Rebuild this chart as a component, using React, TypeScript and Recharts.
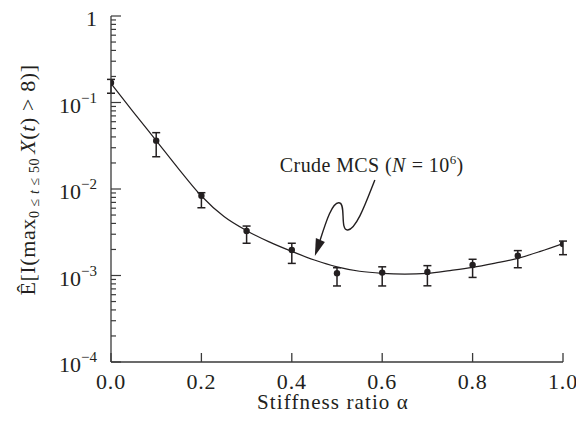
import { ComposedChart, ErrorBar, Label, Line, ReferenceDot, Scatter, XAxis, YAxis } from "recharts";

// Crude MCS estimates with error bars, one per stiffness ratio
const alpha = [0, 0.1, 0.2, 0.3, 0.4, 0.5, 0.6, 0.7, 0.8, 0.9, 1.0];
const mcsMean = [0.169, 0.0362, 0.00837, 0.00327, 0.00197, 0.00106, 0.00108, 0.0011, 0.00132, 0.00169, 0.00231];
const mcsLower = [0.128, 0.0236, 0.00607, 0.00236, 0.00138, 0.000757, 0.000757, 0.00076, 0.00095, 0.00123, 0.00174];
const mcsUpper = [0.185, 0.0448, 0.00906, 0.00373, 0.00236, 0.00123, 0.00126, 0.0013, 0.00154, 0.00194, 0.0025];

// smooth fitted curve
const curveAlpha = [0, 0.05, 0.1, 0.15, 0.2, 0.25, 0.3, 0.35, 0.4, 0.45, 0.5, 0.55, 0.6, 0.65, 0.7, 0.75, 0.8, 0.85, 0.9, 0.95, 1.0];
const curveValue = [
  0.166, 0.077, 0.0363, 0.017, 0.0083, 0.0048, 0.0033, 0.00245, 0.0019, 0.00151, 0.00126, 0.00112, 0.00106, 0.00104,
  0.00106, 0.00114, 0.00124, 0.00139, 0.00158, 0.0019, 0.00234,
];

const xTicks = [0, 0.2, 0.4, 0.6, 0.8, 1.0];
const xTopTicks = [0.2, 0.4, 0.6, 0.8];
const yDecades = [0.0001, 0.001, 0.01, 0.1, 1];
const yDecadeExponents = ["\u22124", "\u22123", "\u22122", "\u22121", ""];
const yMantissas = [2, 3, 4, 5, 6, 7, 8, 9];

const FONT = '"Liberation Serif", "Times New Roman", serif';
const INK = "#231f20";
const AXIS = "#3a3a3a";

const yTicks = [
  ...yDecades,
  ...yDecades.slice(0, -1).flatMap((d) => yMantissas.map((m) => m * d)),
].sort((a, b) => a - b);

const mcsData = alpha.map((x, i) => ({
  x,
  y: mcsMean[i],
  err: [mcsMean[i] - mcsLower[i], mcsUpper[i] - mcsMean[i]],
}));

const curveData = curveAlpha.map((x, i) => ({ x, v: curveValue[i] }));

const decadeIndex = (v: number) => yDecades.findIndex((d) => Math.abs(d - v) / d < 1e-6);

function BottomTick({ x, y, payload }: any) {
  return (
    <g>
      <line x1={x} x2={x} y1={y} y2={y - 9} stroke={AXIS} strokeWidth={1.3} />
      <text x={x} y={y + 27} textAnchor="middle" fill={INK} fontFamily={FONT} fontSize={22} letterSpacing={0.8}>
        {payload.value.toFixed(1)}
      </text>
    </g>
  );
}

function TopTick({ x, y }: any) {
  return <line x1={x} x2={x} y1={y} y2={y + 9} stroke={AXIS} strokeWidth={1.3} />;
}

function LeftTick({ x, y, payload }: any) {
  const k = decadeIndex(payload.value);
  const major = k >= 0;
  return (
    <g>
      <line x1={x} x2={x + (major ? 10 : 5)} y1={y} y2={y} stroke={AXIS} strokeWidth={1.2} />
      {major && (
        <text x={x - 14} y={y + 10} textAnchor="end" fill={INK} fontFamily={FONT} fontSize={22}>
          {yDecadeExponents[k] === "" ? (
            "1"
          ) : (
            <>
              10
              <tspan fontSize={15} dy={-10}>
                {yDecadeExponents[k]}
              </tspan>
            </>
          )}
        </text>
      )}
    </g>
  );
}

function RightTick({ x, y, payload }: any) {
  const major = decadeIndex(payload.value) >= 0;
  return <line x1={x} x2={x - (major ? 10 : 5)} y1={y} y2={y} stroke={AXIS} strokeWidth={1.2} />;
}

function XTitle({ viewBox }: any) {
  return (
    <text
      x={viewBox.x + viewBox.width / 2 - 4}
      y={viewBox.y + 47}
      textAnchor="middle"
      fill={INK}
      fontFamily={FONT}
      fontSize={21}
      letterSpacing={1.1}
    >
      Stiffness ratio α
    </text>
  );
}

function YTitle({ viewBox }: any) {
  const cx = viewBox.x + 35;
  const cy = viewBox.y + viewBox.height / 2 - 9;
  return (
    <text
      x={cx}
      y={cy}
      transform={`rotate(-90, ${cx}, ${cy})`}
      textAnchor="middle"
      fill={INK}
      fontFamily={FONT}
      fontSize={22}
      letterSpacing={0.6}
    >
      Ê[I(max
      <tspan fontSize={14} dy={4}>
        0 ≤{" "}
      </tspan>
      <tspan fontSize={14} fontStyle="italic">
        t
      </tspan>
      <tspan fontSize={14}> ≤ 50 </tspan>
      <tspan dy={-4} fontStyle="italic">
        X
      </tspan>
      <tspan>(</tspan>
      <tspan fontStyle="italic">t</tspan>
      <tspan>) &gt; 8)]</tspan>
    </text>
  );
}

// squiggly arrow pointing at the curve, with its caption above
function CurveNote({ cx, cy }: any) {
  const path = "M60,-76 C52,-56 42,-27 33,-26 C25,-25 31,-51 25,-53 C18,-56 11,-34 5,-15";
  return (
    <g transform={`translate(${cx}, ${cy})`}>
      <path d={path} fill="none" stroke={INK} strokeWidth={1.4} />
      <polygon points="0,0 10,-14 1,-18" fill={INK} />
      <text x={-35} y={-84} fill={INK} fontFamily={FONT} fontSize={20} letterSpacing={0.4}>
        Crude MCS (
        <tspan fontStyle="italic">N</tspan>
        <tspan dx={6}>= 10</tspan>
        <tspan fontSize={13} dy={-8}>
          6
        </tspan>
        <tspan dy={8}>)</tspan>
      </text>
    </g>
  );
}

function MeanDot({ cx, cy }: any) {
  return <circle cx={cx} cy={cy} r={3.2} fill={INK} />;
}

export default function App() {
  return (
    <div style={{ position: "absolute", left: 0, top: 0, background: "#fff" }}>
      <ComposedChart width={576} height={431} margin={{ top: 16, right: 13, left: 0, bottom: 0 }}>
        <XAxis
          dataKey="x"
          type="number"
          domain={[0, 1]}
          allowDataOverflow
          ticks={xTicks}
          interval={0}
          tick={<BottomTick />}
          tickLine={false}
          tickSize={0}
          tickMargin={0}
          height={69}
          axisLine={{ stroke: AXIS, strokeWidth: 1.3 }}
        >
          <Label content={<XTitle />} />
        </XAxis>
        <XAxis
          xAxisId="top"
          orientation="top"
          dataKey="x"
          type="number"
          domain={[0, 1]}
          allowDataOverflow
          ticks={xTopTicks}
          interval={0}
          tick={<TopTick />}
          tickLine={false}
          tickSize={0}
          tickMargin={0}
          height={0}
          axisLine={{ stroke: AXIS, strokeWidth: 1.3 }}
        />
        <YAxis
          dataKey="y"
          type="number"
          scale="log"
          domain={[0.0001, 1]}
          allowDataOverflow
          ticks={yTicks}
          interval={0}
          tick={<LeftTick />}
          tickLine={false}
          tickSize={0}
          tickMargin={0}
          width={111}
          axisLine={{ stroke: AXIS, strokeWidth: 1.3 }}
        >
          <Label content={<YTitle />} />
        </YAxis>
        <YAxis
          yAxisId="right"
          orientation="right"
          type="number"
          scale="log"
          domain={[0.0001, 1]}
          allowDataOverflow
          ticks={yTicks}
          interval={0}
          tick={<RightTick />}
          tickLine={false}
          tickSize={0}
          tickMargin={0}
          width={0}
          axisLine={{ stroke: AXIS, strokeWidth: 1.3 }}
        />
        <Line
          xAxisId="top"
          yAxisId="right"
          data={curveData}
          dataKey="v"
          type="monotone"
          stroke={INK}
          strokeWidth={1.2}
          dot={false}
          activeDot={false}
          isAnimationActive={false}
        />
        <Scatter data={mcsData} shape={<MeanDot />} isAnimationActive={false}>
          <ErrorBar dataKey="err" direction="y" width={4} stroke={INK} strokeWidth={1.5} isAnimationActive={false} />
        </Scatter>
        <ReferenceDot x={0.451} y={0.00168} shape={<CurveNote />} />
      </ComposedChart>
    </div>
  );
}
